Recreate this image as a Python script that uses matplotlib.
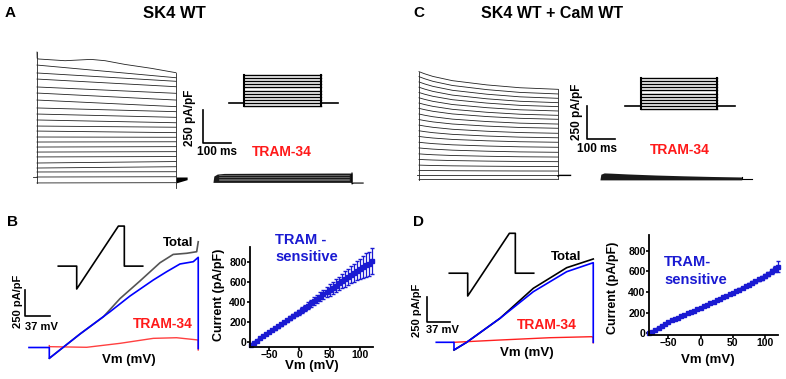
import numpy as np
import matplotlib
matplotlib.use("Agg")
import matplotlib.pyplot as plt

plt.rcParams['font.family'] = ['Liberation Sans', 'DejaVu Sans']
plt.rcParams['font.weight'] = 'bold'

W, H = 786, 379
BLUE = '#0000ff'
IVBLUE = '#1a1ad2'
RED = '#ff1a1a'

# ---------------- data ----------------
# A: SK4 WT current family (pA/pF), 500 ms steps
a_top_t = [0, 0.5, 5, 101, 194, 245, 316, 412, 500]
a_top_i = [947, 900, 894, 881, 891, 881, 853, 823, 790]
a_start = [848, 788, 742, 682, 636, 583, 523, 477, 432, 386, 348, 303, 265, 227, 189, 152, 106, 68, 38, 0, -45]
a_end = [752, 725, 684, 634, 583, 533, 495, 452, 411, 377, 336, 301, 267, 230, 192, 155, 117, 78, 40, 2, -43]
# A: after TRAM-34
a_tram_t = [0, 3, 15, 40, 150, 300, 450, 500]
a_tram_top = [0, 45, 60, 65, 66, 67, 68, 68]

# C: SK4 WT + CaM WT current family
c_start = [783, 745, 705, 665, 625, 585, 545, 505, 462, 420, 378, 335, 292, 248, 205, 160, 118, 75, 35, 0, -35]
c_end = [649, 614, 581, 548, 518, 485, 452, 422, 386, 354, 316, 282, 248, 210, 172, 136, 101, 64, 30, 0, -33]
c_decay_t = [0, 20, 50, 120, 244, 363, 500]
c_decay_f = [0, 0.12, 0.27, 0.51, 0.75, 0.91, 1.0]
c_tram_t = [0, 3, 15, 40, 100, 200, 300, 400, 510]
c_tram_top = [0, 40, 50, 48, 42, 34, 28, 23, 19]

# step protocol (mV)
step_mv = [-100, -80, -60, -40, -20, 0, 20, 40, 60, 80, 100]
hold_mv = -80

# ramp protocol
ramp_t = [0, 90, 90, 294, 323, 323, 413]
ramp_v = [-20, -20, -100, 120, 120, -20, -20]

# B: ramp currents vs Vm
b_v_blue = [-130, -100, -100, -54.6, -10.3, 19.2, 53.6, 73.4, 93, 112.7, 120, 120]
b_i_blue = [0, 0, -104, 130, 344, 495, 649, 729, 803, 825, 867, -10]
b_v_gray = [-100, -54.6, -20, 4.4, 34, 63.5, 83, 103, 117.7, 120]
b_i_gray = [-104, 130, 296, 470, 640, 815, 895, 906, 921, 1017]
b_v_red = [-100, -100, -44.8, 4.4, 53.6, 88, 120, 120]
b_i_red = [18, 8, 2, 40, 88, 94, 72, -24]

# D: ramp currents vs Vm
d_v_blue = [-128, -100, -100, -80, -27.3, 25.3, 78, 120, 120]
d_i_blue = [0, 0, -77, 0, 240, 506, 706, 796, 0]
d_v_black = [-100, -80, -27.3, 25.3, 78, 120]
d_i_black = [-77, 0, 240, 540, 746, 833]
d_v_red = [-100, -27, 51.7, 117.5, 120, 120]
d_i_red = [0, 23, 46, 56, 50, -5]

# IV curves (TRAM-sensitive)
iv_v = np.arange(-80, 121, 5)
b_iv = [-25, -5, 15, 38, 58, 78, 99, 118, 138, 158, 178, 198, 218, 238, 258, 278, 298,
        320, 342, 364, 386, 408, 430, 453, 475, 497, 519, 541, 563, 585, 607, 628, 650,
        670, 692, 712, 730, 748, 765, 780, 810]
b_iv_err = [5, 5, 6, 6, 7, 8, 10, 11, 12, 13, 14, 15, 17, 18, 20, 22, 25,
            28, 30, 33, 36, 39, 42, 45, 48, 52, 56, 60, 64, 68, 72, 76, 80,
            85, 90, 96, 100, 110, 118, 122, 130]
d_iv = [0, 18, 37, 56, 75, 94, 113, 126, 140, 153, 167, 180, 194, 207, 220, 234, 247,
        261, 276, 290, 305, 319, 334, 348, 363, 377, 392, 408, 424, 440, 456, 472, 488,
        505, 521, 537, 553, 575, 600, 624, 646]
d_iv_err = [3, 3, 3, 4, 4, 4, 4, 4, 5, 5, 5, 5, 5, 6, 6, 6, 6,
            7, 7, 7, 8, 8, 8, 9, 9, 10, 10, 11, 11, 12, 12, 13, 14,
            15, 16, 17, 18, 22, 26, 30, 50]

fig = plt.figure(figsize=(W / 100, H / 100), dpi=100)


def px_axes(box, x0, sx, y0, sy):
    # box in pixels (left, top, right, bottom); data 0 sits at pixel x0 / y0
    l, t, r, b = box
    ax = fig.add_axes([l / W, 1 - b / H, (r - l) / W, (b - t) / H])
    ax.set_xlim((l - x0) / sx, (r - x0) / sx)
    ax.set_ylim((y0 - b) / sy, (y0 - t) / sy)
    ax.axis('off')
    return ax


def ftext(x, y, s, size=9, **kw):
    kw.setdefault('ha', 'center')
    kw.setdefault('va', 'center')
    fig.text(x / W, 1 - y / H, s, fontsize=size, fontweight='bold', **kw)


# ---------- panel A ----------
ax = px_axes((25, 45, 240, 192), 37, 0.278, 177, 0.132)
ax.plot(a_top_t, a_top_i, color='#222', lw=0.6)
for s, e in zip(a_start, a_end):
    ax.plot([0, 500], [s, e], color='#222', lw=0.6)
ax.plot([-14, 0], [0, 0], color='#222', lw=0.6)
ax.plot([0, 0], [min(a_start), max(a_top_i)], color='#222', lw=0.6)
ax.plot([500, 500], [-83, a_top_i[-1]], color='#222', lw=0.6)
ax.fill_between([500, 540], [0, 0], [-45, -20], color='black', lw=0)
ax.plot([597, 597, 697], [508, 258, 258], color='black', lw=1.2)

ax = px_axes((205, 160, 370, 192), 213, 0.278, 182, 0.132)
ax.fill_between(a_tram_t, a_tram_top, -3, color='#1a1a1a', lw=0)
for lev in [55, 40, 25, 12]:
    ax.plot([20, 490], [lev, lev], color='#999', lw=0.4)
ax.plot([500, 500, 505, 540], [68, -15, -8, -8], color='black', lw=0.8)

ax = px_axes((220, 65, 345, 112), 244, 0.154, 90.5, 0.155)
for v in step_mv:
    ax.plot([0, 500], [v, v], color='black', lw=1.0)
ax.plot([-97, 0], [hold_mv, hold_mv], color='black', lw=1.2)
ax.plot([500, 610], [hold_mv, hold_mv], color='black', lw=1.2)
ax.plot([0, 0], [min(step_mv), max(step_mv)], color='black', lw=1.5)
ax.plot([500, 500], [min(step_mv), max(step_mv)], color='black', lw=1.5)

ftext(5, 13, 'A', size=11, ha='left')
ftext(174, 13, 'SK4 WT', size=12)
ftext(190.5, 117.5, '250 pA/pF', size=8.5, rotation=90)
ftext(217, 152, '100 ms', size=8.5)
ftext(282, 152, 'TRAM-34', size=10, color=RED)

# ---------- panel C ----------
ax = px_axes((405, 60, 625, 190), 419, 0.278, 175, 0.132)
for s, e in zip(c_start, c_end):
    ax.plot(c_decay_t, [s + (e - s) * f for f in c_decay_f], color='#222', lw=0.6)
ax.plot([-8, 0], [0, 0], color='#222', lw=0.6)
ax.plot([0, 0], [min(c_start), max(c_start)], color='#222', lw=0.6)
ax.plot([500, 500], [min(c_end), max(c_end)], color='#222', lw=0.6)
ax.plot([500, 505, 545], [-8, -3, -3], color='black', lw=1.0)
ax.plot([604, 604, 704], [523, 273, 273], color='black', lw=1.2)

ax = px_axes((590, 160, 760, 192), 600, 0.278, 179.5, 0.132)
ax.fill_between(c_tram_t, c_tram_top, -3, color='#1a1a1a', lw=0)
ax.plot([510, 510, 545], [19, 4, 4], color='black', lw=0.8)

ax = px_axes((615, 68, 745, 115), 641, 0.152, 93.5, 0.155)
for v in step_mv:
    ax.plot([0, 500], [v, v], color='black', lw=1.0)
ax.plot([-105, 0], [hold_mv, hold_mv], color='black', lw=1.2)
ax.plot([500, 618], [hold_mv, hold_mv], color='black', lw=1.2)
ax.plot([0, 0], [min(step_mv), max(step_mv)], color='black', lw=1.5)
ax.plot([500, 500], [min(step_mv), max(step_mv)], color='black', lw=1.5)

ftext(413, 13, 'C', size=11, ha='left')
ftext(552, 13, 'SK4 WT + CaM WT', size=11.5)
ftext(577, 112, '250 pA/pF', size=8.5, rotation=90)
ftext(597, 149, '100 ms', size=8.5)
ftext(680, 150, 'TRAM-34', size=10, color=RED)

# ---------- panel B ----------
# 0 mV sits at pixel 117 (ramp starts at -100 mV, x = 49.3)
ax = px_axes((10, 215, 210, 372), 117.0, 0.677, 347.5, 0.104)
ax.plot(b_v_gray, b_i_gray, color='#555', lw=1.2)
ax.plot(b_v_red, b_i_red, color='#ff4040', lw=1.0)
ax.plot(b_v_blue, b_i_blue, color=BLUE, lw=1.2)
ax.plot([-136.6, -136.6, -99.6], [553, 303, 303], color='black', lw=1.2)

ax = px_axes((50, 215, 150, 300), 58.3, 0.2044, 260.4, 0.286)
ax.plot(ramp_t, ramp_v, color='black', lw=1.2)

ftext(7, 222, 'B', size=11, ha='left')
ftext(178, 243, 'Total', size=9.5)
ftext(162.5, 324, 'TRAM-34', size=10, color=RED)
ftext(41.5, 327, '37 mV', size=8)
ftext(18, 301, '250 pA/pF', size=8, rotation=90)
ftext(128.5, 360, 'Vm (mV)', size=9.5)

# ---------- panel D ----------
ax = px_axes((400, 215, 605, 372), 517.3, 0.633, 342.3, 0.1)
ax.plot(d_v_black, d_i_black, color='black', lw=1.2)
ax.plot(d_v_red, d_i_red, color='#ff2020', lw=1.0)
ax.plot(d_v_blue, d_i_blue, color=BLUE, lw=1.2)
ax.plot([-143, -143, -106], [456, 206, 206], color='black', lw=1.2)

ax = px_axes((440, 215, 545, 305), 449.3, 0.2044, 267.5, 0.285)
ax.plot(ramp_t, ramp_v, color='black', lw=1.2)

ftext(413, 222, 'D', size=11, ha='left')
ftext(566, 257, 'Total', size=9.5)
ftext(546.7, 325, 'TRAM-34', size=10, color=RED)
ftext(442.5, 330, '37 mV', size=8)
ftext(417, 310, '250 pA/pF', size=8, rotation=90)
ftext(527, 353, 'Vm (mV)', size=9.5)


# ---------- IV plots ----------
def iv_axes(box, xlim, ylim):
    l, t, r, b = box
    ax = fig.add_axes([l / W, 1 - b / H, (r - l) / W, (b - t) / H])
    ax.set_xlim(*xlim)
    ax.set_ylim(*ylim)
    for sp in ['top', 'right']:
        ax.spines[sp].set_visible(False)
    for sp in ['left', 'bottom']:
        ax.spines[sp].set_linewidth(1.3)
    ax.set_xticks([-50, 0, 50, 100])
    ax.set_yticks([0, 200, 400, 600, 800])
    ax.tick_params(length=2, width=1.2, labelsize=7.5, pad=0.5)
    for lab in ax.get_xticklabels() + ax.get_yticklabels():
        lab.set_fontweight('bold')
    ax.patch.set_alpha(0)
    return ax


ax = iv_axes((250, 246.7, 373.3, 346.7), (-81, 122), (-45, 950))
ax.errorbar(iv_v, b_iv, yerr=b_iv_err, color=IVBLUE, marker='s', ms=3, lw=1.5,
            elinewidth=0.9, capsize=1.5, clip_on=False)
ftext(275, 240, 'TRAM -', size=10.5, ha='left', color=IVBLUE)
ftext(275, 257, 'sensitive', size=10.5, ha='left', color=IVBLUE)
ftext(219, 295, 'Current (pA/pF)', size=9, rotation=90)
ftext(312, 366, 'Vm (mV)', size=9.5)

ax = iv_axes((649, 235, 778, 335), (-80, 120), (-15, 950))
ax.errorbar(iv_v, d_iv, yerr=d_iv_err, color=IVBLUE, marker='s', ms=3, lw=1.5,
            elinewidth=0.9, capsize=1.5, clip_on=False)
ftext(664, 262, 'TRAM-', size=10.5, ha='left', color=IVBLUE)
ftext(664, 280, 'sensitive', size=10.5, ha='left', color=IVBLUE)
ftext(613, 288, 'Current (pA/pF)', size=9, rotation=90)
ftext(708, 360, 'Vm (mV)', size=9.5)

fig.savefig('out.png', dpi=100)
